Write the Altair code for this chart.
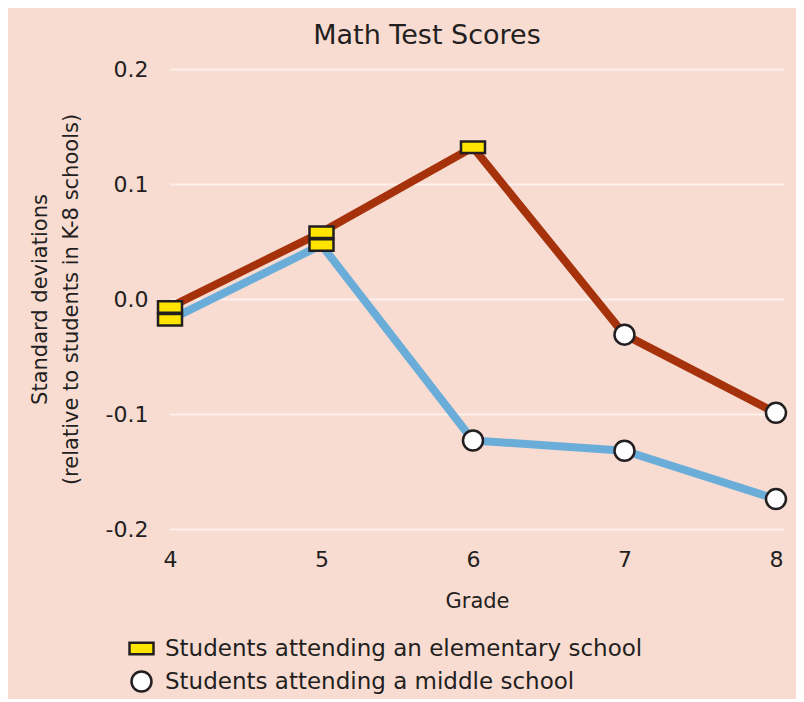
import altair as alt
import pandas as pd

# ---- data ----
grades = [4, 5, 6, 7, 8]
series_a = "Middle school begins in grade 7"   # dark red line
series_b = "Middle school begins in grade 6"   # blue line
values_a = [-0.007, 0.058, 0.132, -0.031, -0.099]
values_b = [-0.018, 0.047, -0.123, -0.132, -0.174]
ELEM = "Students attending an elementary school"
MID = "Students attending a middle school"
school_a = [ELEM, ELEM, ELEM, MID, MID]
school_b = [ELEM, ELEM, MID, MID, MID]
y_ticks = [-0.2, -0.1, 0.0, 0.1, 0.2]

rows = []
for g, v, s in zip(grades, values_b, school_b):
    rows.append({"series": series_b, "grade": g, "value": v, "school": s})
for g, v, s in zip(grades, values_a, school_a):
    rows.append({"series": series_a, "grade": g, "value": v, "school": s})
df = pd.DataFrame(rows)

BG = "#F8DCD2"
RED = "#A5320B"
BLUE = "#6AADD9"
YELLOW = "#FFE400"
INK = "#231F20"
FONT = "DejaVu Sans"

RECT = "M-1,-0.48L1,-0.48L1,0.48L-1,0.48Z"
CIRC = "M-0.833,0A0.833,0.833,0,1,0,0.833,0A0.833,0.833,0,1,0,-0.833,0Z"

x_enc = alt.X(
    "grade:Q",
    scale=alt.Scale(domain=[4, 8.053], nice=False, zero=False),
    axis=alt.Axis(
        values=grades, format="d", title="Grade", grid=False, domain=False,
        ticks=False, labelFlush=False, labelPadding=20, labelFontSize=22,
        labelFont=FONT, labelColor=INK, titleFontSize=21, titleFont=FONT,
        titleColor=INK, titleFontWeight="normal", titlePadding=20,
    ),
)
y_enc = alt.Y(
    "value:Q",
    scale=alt.Scale(domain=[-0.2, 0.2], nice=False, zero=False),
    axis=alt.Axis(
        values=y_ticks,
        labelExpr="datum.value < 0 ? '-' + format(-datum.value, '.1f') : format(datum.value, '.1f')",
        title=["Standard deviations", "(relative to students in K-8 schools)"],
        grid=True, gridColor="#FDF0EB", gridWidth=2, domain=False, ticks=False,
        labelPadding=22, labelFontSize=22, labelFont=FONT, labelColor=INK,
        titleFontSize=21, titleFont=FONT, titleColor=INK, titleFontWeight="normal",
        titlePadding=24, titleLineHeight=31,
    ),
)

base = alt.Chart(df).encode(x=x_enc, y=y_enc)

line_b = base.transform_filter(alt.datum.series == series_b).mark_line(
    color=BLUE, strokeWidth=8, strokeJoin="round"
).encode(detail="series:N")
line_a = base.transform_filter(alt.datum.series == series_a).mark_line(
    color=RED, strokeWidth=8, strokeJoin="round"
).encode(detail="series:N")

leg = alt.Legend(
    title=None, orient="none", legendX=-42, legendY=566, symbolSize=576,
    symbolStrokeWidth=2.5, labelFont=FONT,
    labelFontSize=23, labelColor=INK, labelOffset=10, rowPadding=5,
    padding=0, labelLimit=700,
)

points = base.mark_point(
    filled=True, strokeWidth=2.5, opacity=1, size=576
).encode(
    shape=alt.Shape("school:N", scale=alt.Scale(domain=[ELEM, MID], range=[RECT, CIRC]), legend=leg),
    fill=alt.Fill("school:N", scale=alt.Scale(domain=[ELEM, MID], range=[YELLOW, "#FFFFFF"]), legend=leg),
    stroke=alt.Stroke("school:N", scale=alt.Scale(domain=[ELEM, MID], range=[INK, INK]), legend=leg),
)

chart = alt.layer(line_b, line_a, points).properties(
    width=614,
    height=460,
    padding={"left": 162, "top": 61, "right": 12, "bottom": 170},
    autosize=alt.AutoSizeParams(type="none"),
    background=BG,
    title=alt.TitleParams(
        "Math Test Scores", fontSize=27, font=FONT, color=INK,
        fontWeight="normal", anchor="middle", dx=-50, offset=8,
    ),
).configure_view(stroke=None)

chart.save("out.html", embed_options={"renderer": "svg", "actions": False})
